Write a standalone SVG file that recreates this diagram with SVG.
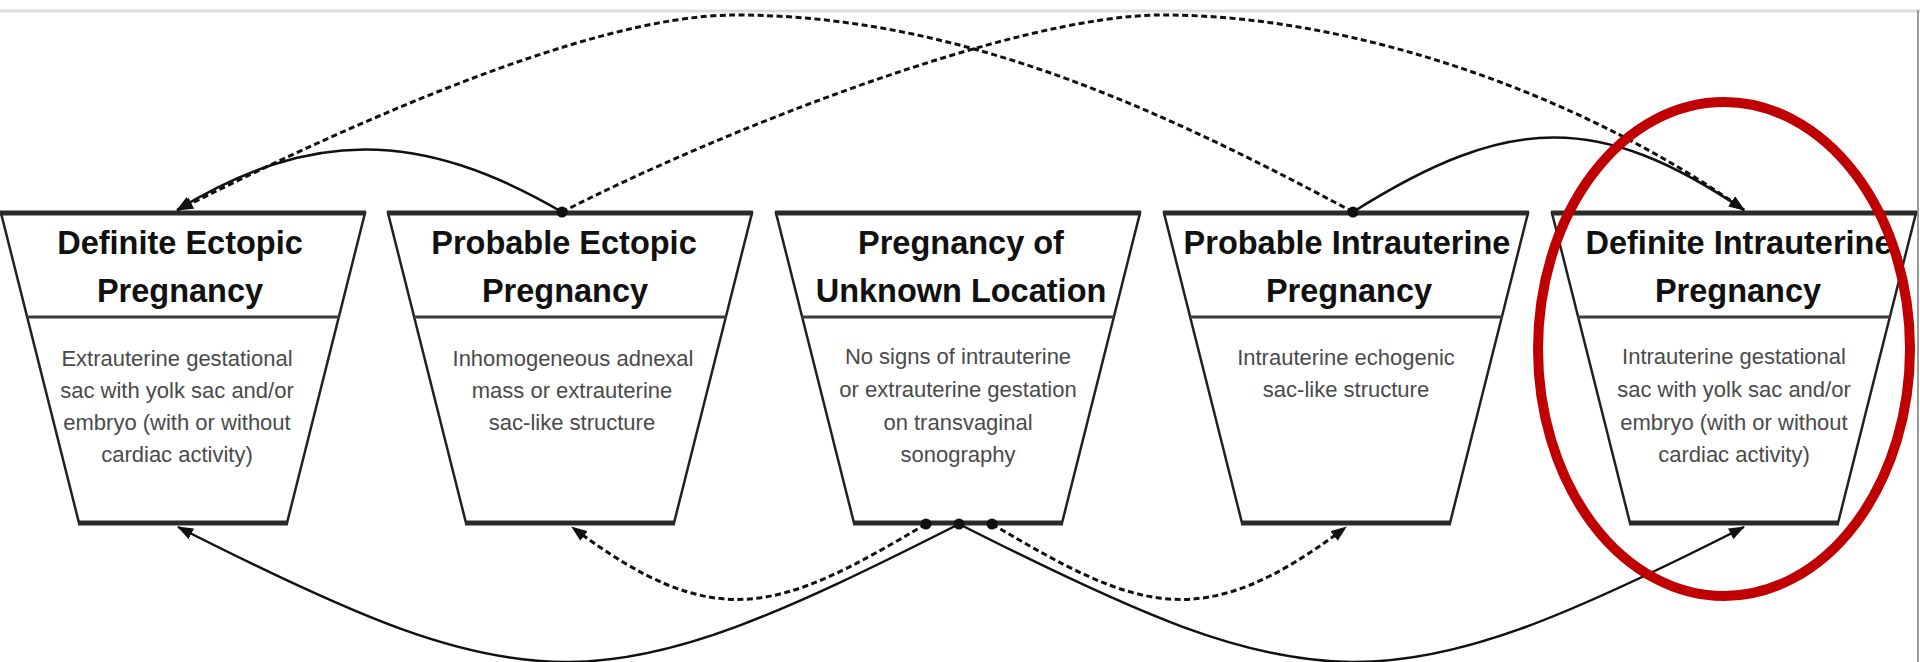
<svg xmlns="http://www.w3.org/2000/svg" width="1920" height="662" viewBox="0 0 1920 662">
<defs>
<style>
.trap{fill:#fff;stroke:#222;stroke-width:2.5;stroke-linejoin:miter}
.edge{stroke:#2a2a2a;stroke-width:5}
.div{stroke:#3a3a3a;stroke-width:3}
.title{font-family:"Liberation Sans",Arial,sans-serif;font-weight:bold;font-size:32.5px;fill:#111;text-anchor:middle}
.body{font-family:"Liberation Sans",Arial,sans-serif;font-size:22px;fill:#4a4a4a;text-anchor:middle}
.solid{fill:none;stroke:#111;stroke-width:2.5}
.dash{fill:none;stroke:#111;stroke-width:3;stroke-dasharray:6 3.5}
.dot{fill:#111}
</style>
<marker id="arr" viewBox="0 0 16 12" markerWidth="16" markerHeight="12" refX="15" refY="6" orient="auto" markerUnits="userSpaceOnUse">
<path d="M0,0 L16,6 L0,12 z" fill="#111"/>
</marker>
</defs>
<rect x="0" y="0" width="1920" height="662" fill="#fff"/>
<line x1="0" y1="11" x2="1920" y2="11" stroke="#dcdcdc" stroke-width="3"/>
<line x1="1918" y1="10" x2="1918" y2="662" stroke="#9a9a9a" stroke-width="2"/>

<g id="node-definite-ectopic">
<polygon class="trap" points="1,213 365,213 287,523 79,523"/>
<line class="edge" x1="0" y1="213" x2="366" y2="213"/>
<line class="edge" x1="78" y1="523" x2="288" y2="523"/>
<line class="div" x1="27" y1="317" x2="339" y2="317"/>
<text class="title" x="180" y="254">Definite Ectopic</text>
<text class="title" x="180" y="302">Pregnancy</text>
<text class="body" x="177" y="366">Extrauterine gestational</text>
<text class="body" x="177" y="398">sac with yolk sac and/or</text>
<text class="body" x="177" y="430">embryo (with or without</text>
<text class="body" x="177" y="462">cardiac activity)</text>
</g>

<g id="node-probable-ectopic">
<polygon class="trap" points="388,213 752,213 674,523 466,523"/>
<line class="edge" x1="387" y1="213" x2="753" y2="213"/>
<line class="edge" x1="465" y1="523" x2="675" y2="523"/>
<line class="div" x1="414" y1="317" x2="726" y2="317"/>
<text class="title" x="564" y="254">Probable Ectopic</text>
<text class="title" x="565" y="302">Pregnancy</text>
<text class="body" x="573" y="366">Inhomogeneous adnexal</text>
<text class="body" x="572" y="398">mass or extrauterine</text>
<text class="body" x="572" y="430">sac-like structure</text>
</g>

<g id="node-unknown-location">
<polygon class="trap" points="776,213 1140,213 1062,523 854,523"/>
<line class="edge" x1="775" y1="213" x2="1141" y2="213"/>
<line class="edge" x1="853" y1="523" x2="1063" y2="523"/>
<line class="div" x1="802" y1="317" x2="1114" y2="317"/>
<text class="title" x="961" y="254">Pregnancy of</text>
<text class="title" x="961" y="302">Unknown Location</text>
<text class="body" x="958" y="364">No signs of intrauterine</text>
<text class="body" x="958" y="397">or extrauterine gestation</text>
<text class="body" x="958" y="430">on transvaginal</text>
<text class="body" x="958" y="462">sonography</text>
</g>

<g id="node-probable-intrauterine">
<polygon class="trap" points="1164,213 1528,213 1450,523 1242,523"/>
<line class="edge" x1="1163" y1="213" x2="1529" y2="213"/>
<line class="edge" x1="1241" y1="523" x2="1451" y2="523"/>
<line class="div" x1="1190" y1="317" x2="1502" y2="317"/>
<text class="title" x="1347" y="254">Probable Intrauterine</text>
<text class="title" x="1349" y="302">Pregnancy</text>
<text class="body" x="1346" y="365">Intrauterine echogenic</text>
<text class="body" x="1346" y="397">sac-like structure</text>
</g>

<g id="node-definite-intrauterine">
<polygon class="trap" points="1552,213 1916,213 1838,523 1630,523"/>
<line class="edge" x1="1551" y1="213" x2="1917" y2="213"/>
<line class="edge" x1="1629" y1="523" x2="1839" y2="523"/>
<line class="div" x1="1578" y1="317" x2="1890" y2="317"/>
<text class="title" x="1739" y="254">Definite Intrauterine</text>
<text class="title" x="1738" y="302">Pregnancy</text>
<text class="body" x="1734" y="364">Intrauterine gestational</text>
<text class="body" x="1734" y="397">sac with yolk sac and/or</text>
<text class="body" x="1734" y="430">embryo (with or without</text>
<text class="body" x="1734" y="462">cardiac activity)</text>
</g>

<g id="connectors">
<path class="solid" d="M562,212 C420,129 310,129 177,210" marker-end="url(#arr)"/>
<path class="dash" d="M1353,212 C1153,105 955,15 735,15 C585,15 328,135 178,210" marker-end="url(#arr)"/>
<path class="dash" d="M562,212 C712,135 1012,15 1162,15 C1362,15 1590,100 1744,210" marker-end="url(#arr)"/>
<path class="solid" d="M1353,212 C1510,113 1600,113 1744,210" marker-end="url(#arr)"/>
<path class="dash" d="M926,524 C781,610 717,637 572,527" marker-end="url(#arr)"/>
<path class="dash" d="M992,524 C1137,610 1201,637 1346,527" marker-end="url(#arr)"/>
<path class="solid" d="M959,524 C600,706 537,709 178,527" marker-end="url(#arr)"/>
<path class="solid" d="M959,524 C1318,706 1385,709 1744,527" marker-end="url(#arr)"/>
<circle class="dot" cx="562" cy="212" r="5.5"/>
<circle class="dot" cx="1353" cy="212" r="5.5"/>
<circle class="dot" cx="926" cy="524" r="5.5"/>
<circle class="dot" cx="959" cy="524" r="5.5"/>
<circle class="dot" cx="992" cy="524" r="5.5"/>
</g>

<ellipse id="highlight" cx="1724" cy="349" rx="186" ry="247" fill="none" stroke="#c00000" stroke-width="10"/>
</svg>
